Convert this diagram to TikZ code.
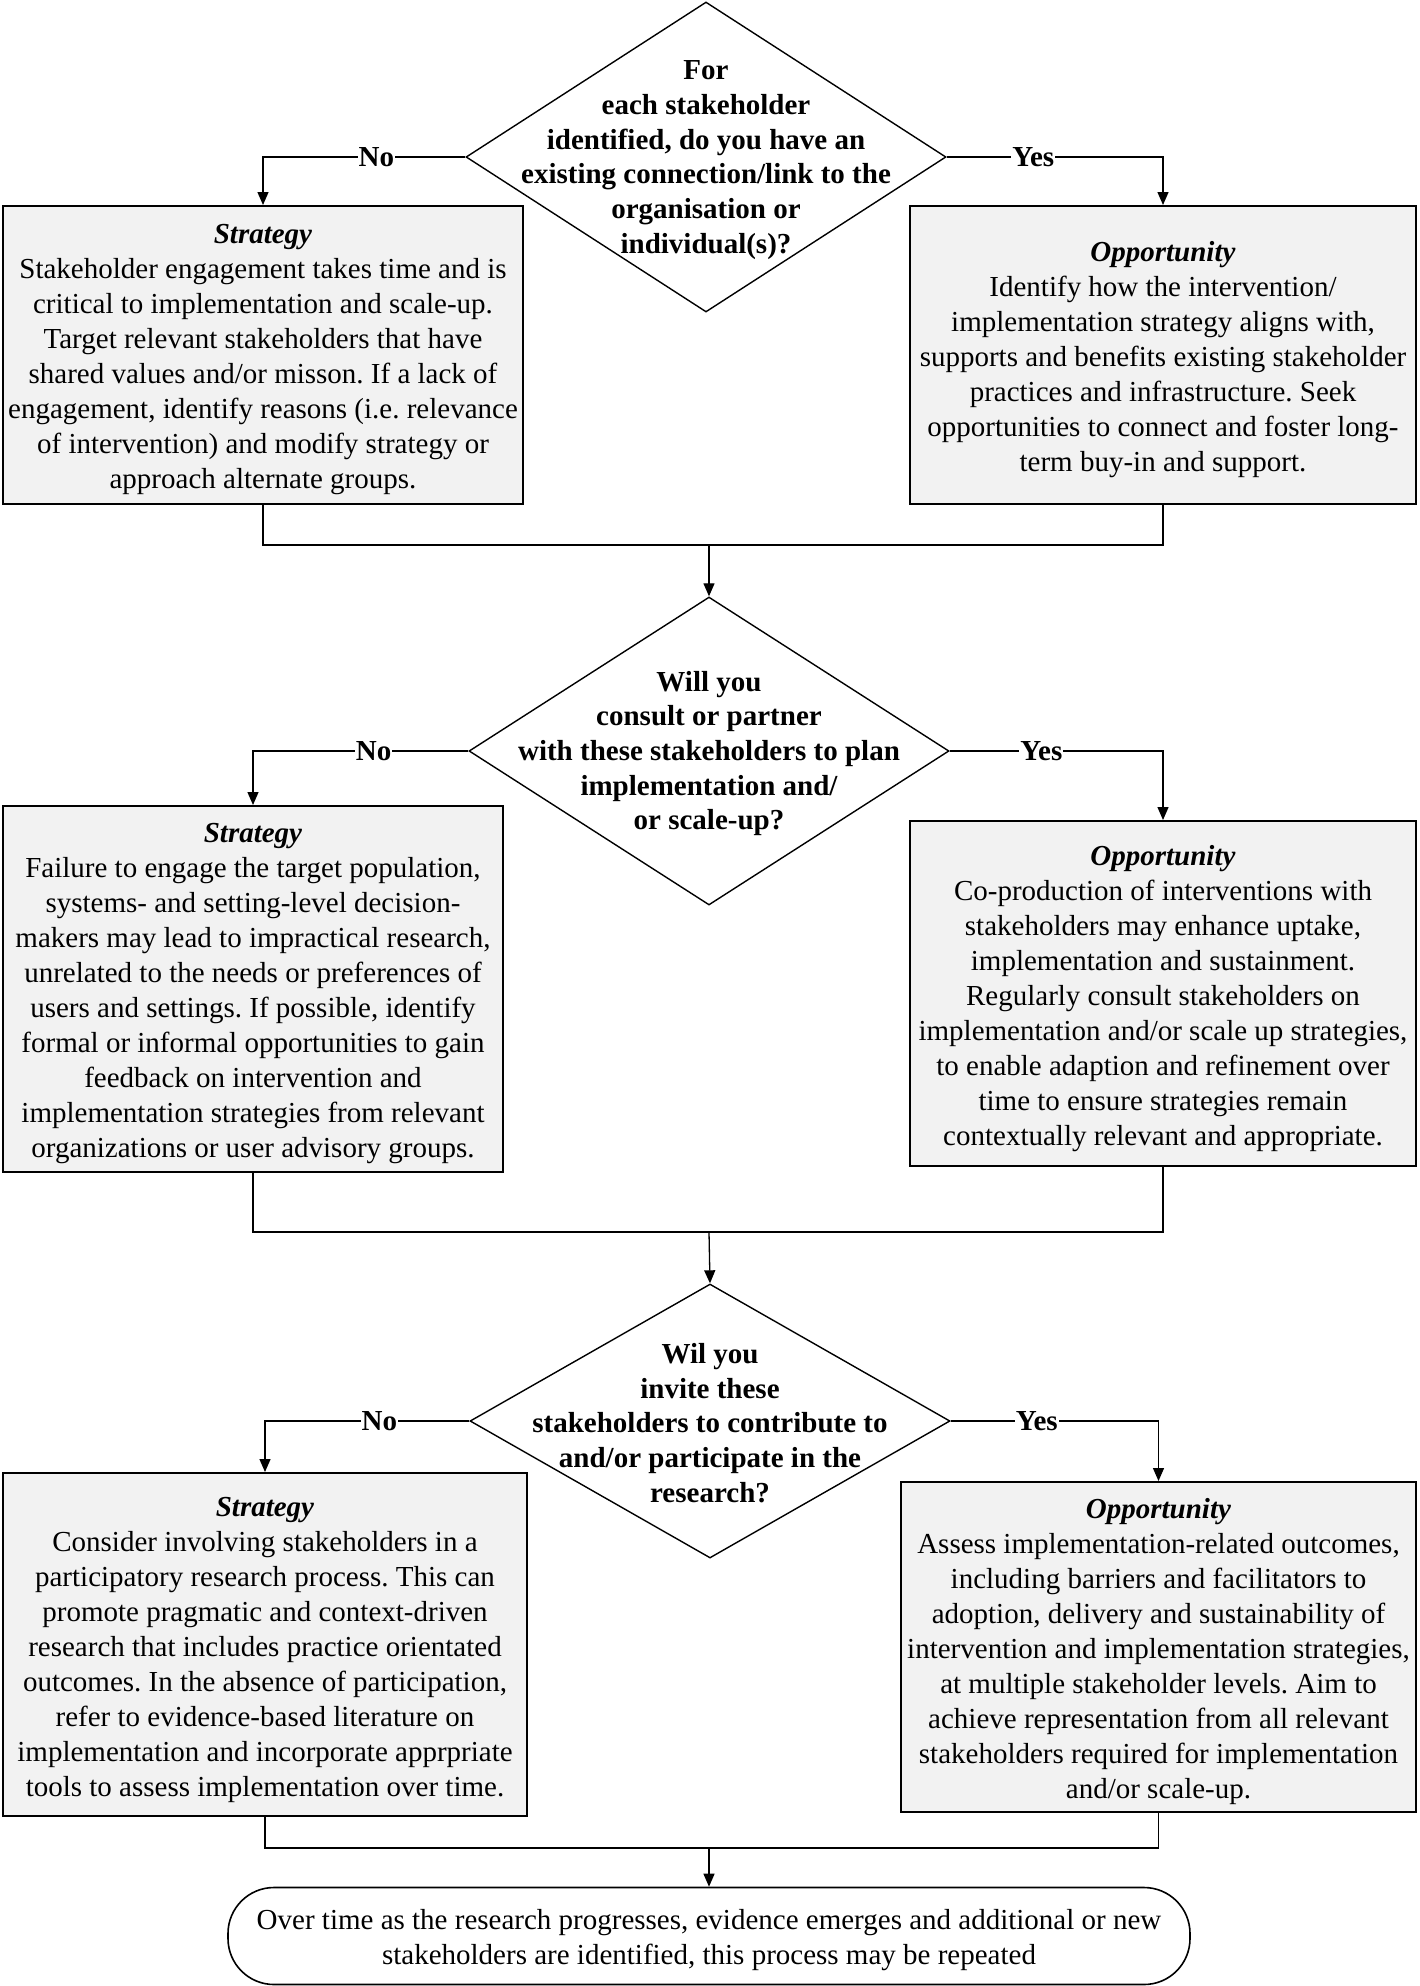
\documentclass[tikz,border=0pt]{standalone}
\usepackage{fontspec}
\setmainfont{Liberation Serif}
\usetikzlibrary{shapes.geometric,arrows.meta}
\begin{document}
\frenchspacing
\begin{tikzpicture}[x=1pt,y=-1pt,
  every node/.style={font=\fontsize{29}{35}\selectfont},
  infobox/.style={draw, line width=2pt, fill=boxgray, inner sep=0pt},
  btext/.style={align=center, inner sep=0pt, yshift=-5pt},
  decision/.style={draw, diamond, line width=1.4pt, inner sep=0pt},
  dtext/.style={align=center, font=\fontsize{29}{34.7}\selectfont\bfseries, inner sep=0pt},
  lbl/.style={fill=white, inner sep=1pt, font=\fontsize{29}{30}\selectfont\bfseries},
  conn/.style={line width=1.3pt},
  arr/.style={conn, -{Triangle[length=13pt,width=11pt]}},
  terminal/.style={draw, line width=1.6pt, rounded corners=46pt, inner sep=0pt}
]
\definecolor{boxgray}{RGB}{242,242,242}
\useasboundingbox (0,0) rectangle (1419,1986);

% ---------- level 1 ----------
\node[decision, minimum width=480pt, minimum height=310pt] (d1) at (706,157) {};
\node[dtext] (d1t) at (706,160) {For\\each stakeholder\\identified, do you have an\\existing connection/link to the\\organisation or\\individual(s)?};

\node[infobox, minimum width=520pt, minimum height=298pt] (b1l) at (263,355) {};
\node[btext] (b1lt) at (b1l.center) {\textbf{\textit{Strategy}}\\
Stakeholder engagement takes time and is\\
critical to implementation and scale-up.\\
Target relevant stakeholders that have\\
shared values and/or misson. If a lack of\\
engagement, identify reasons (i.e. relevance\\
of intervention) and modify strategy or\\
approach alternate groups.};

\node[infobox, minimum width=506pt, minimum height=298pt] (b1r) at (1163,355) {};
\node[btext] (b1rt) at (b1r.center) {\textbf{\textit{Opportunity}}\\
Identify how the intervention/\\
implementation strategy aligns with,\\
supports and benefits existing stakeholder\\
practices and infrastructure. Seek\\
opportunities to connect and foster long-\\
term buy-in and support.};

\draw[arr] (d1.west) -| node[lbl, pos=0.22] (n1) {No} (b1l.north);
\draw[arr] (d1.east) -| node[lbl, pos=0.2] (y1) {Yes} (b1r.north);
\coordinate (m1) at (709,545);
\draw[conn] (b1l.south) |- (m1);
\draw[conn] (b1r.south) |- (m1);

% ---------- level 2 ----------
\node[decision, minimum width=480pt, minimum height=308pt] (d2) at (709,751) {};
\node[dtext] (d2t) at (709,753.5) {Will you\\consult or partner\\with these stakeholders to plan\\implementation and/\\or scale-up?};
\draw[arr] (m1) -- (d2.north);

\node[infobox, minimum width=500pt, minimum height=366pt] (b2l) at (253,989) {};
\node[btext] (b2lt) at (b2l.center) {\textbf{\textit{Strategy}}\\
Failure to engage the target population,\\
systems- and setting-level decision-\\
makers may lead to impractical research,\\
unrelated to the needs or preferences of\\
users and settings. If possible, identify\\
formal or informal opportunities to gain\\
feedback on intervention and\\
implementation strategies from relevant\\
organizations or user advisory groups.};

\node[infobox, minimum width=506pt, minimum height=345pt] (b2r) at (1163,993.5) {};
\node[btext] (b2rt) at (b2r.center) {\textbf{\textit{Opportunity}}\\
Co-production of interventions with\\
stakeholders may enhance uptake,\\
implementation and sustainment.\\
Regularly consult stakeholders on\\
implementation and/or scale up strategies,\\
to enable adaption and refinement over\\
time to ensure strategies remain\\
contextually relevant and appropriate.};

\draw[arr] (d2.west) -| node[lbl, pos=0.22] (n2) {No} (b2l.north);
\draw[arr] (d2.east) -| node[lbl, pos=0.215] (y2) {Yes} (b2r.north);
\coordinate (m2) at (709,1232);
\draw[conn] (b2l.south) |- (m2);
\draw[conn] (b2r.south) |- (m2);

% ---------- level 3 ----------
\node[decision, minimum width=480pt, minimum height=274pt] (d3) at (710,1421) {};
\node[dtext] (d3t) at (710,1423) {Wil you\\invite these\\stakeholders to contribute to\\and/or participate in the\\research?};
\draw[arr] (m2) -- (d3.north);

\node[infobox, minimum width=524pt, minimum height=343pt] (b3l) at (265,1644.5) {};
\node[btext] (b3lt) at (b3l.center) {\textbf{\textit{Strategy}}\\
Consider involving stakeholders in a\\
participatory research process. This can\\
promote pragmatic and context-driven\\
research that includes practice orientated\\
outcomes. In the absence of participation,\\
refer to evidence-based literature on\\
implementation and incorporate apprpriate\\
tools to assess implementation over time.};

\node[infobox, minimum width=515pt, minimum height=330pt] (b3r) at (1158.5,1647) {};
\node[btext] (b3rt) at (b3r.center) {\textbf{\textit{Opportunity}}\\
Assess implementation-related outcomes,\\
including barriers and facilitators to\\
adoption, delivery and sustainability of\\
intervention and implementation strategies,\\
at multiple stakeholder levels. Aim to\\
achieve representation from all relevant\\
stakeholders required for implementation\\
and/or scale-up.};

\draw[arr] (d3.west) -| node[lbl, pos=0.22] (n3) {No} (b3l.north);
\draw[arr] (d3.east) -| node[lbl, pos=0.207] (y3) {Yes} (b3r.north);
\coordinate (m3) at (709,1848);
\draw[conn] (b3l.south) |- (m3);
\draw[conn] (b3r.south) |- (m3);

% ---------- terminal ----------
\node[terminal, minimum width=962pt, minimum height=97pt] (t) at (709,1936) {};
\node[btext, yshift=1pt] (tt) at (t.center) {Over time as the research progresses, evidence emerges and additional or new\\stakeholders are identified, this process may be repeated};
\draw[arr] (m3) -- (t.north);
\end{tikzpicture}
\end{document}
